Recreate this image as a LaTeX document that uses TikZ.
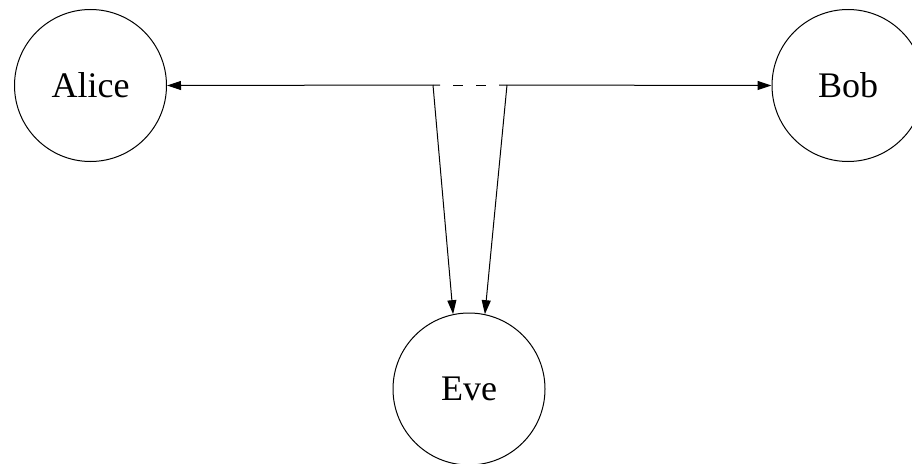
\documentclass[tikz,border=0pt]{standalone}
\usepackage{fontspec}
\setmainfont{Liberation Serif}
\usetikzlibrary{arrows.meta}
\begin{document}
\begin{tikzpicture}[x=1pt,y=-1pt,
  party/.style={circle,draw,line width=1pt,minimum size=152pt,inner sep=0pt,font=\fontsize{36}{40}\selectfont},
  conn/.style={line width=1pt,-{Triangle[length=14pt,width=9pt]}}]
\useasboundingbox (0,0) rectangle (912,463);
\node[party] (alice) at (90.5,85.5) {Alice};
\node[party] (bob) at (848,85.5) {Bob};
\node[party] (eve) at (469,389) {Eve};
\coordinate (p1) at (433,85);
\coordinate (p2) at (507,85);
\coordinate (h1) at (440,85);
\coordinate (h2) at (499,85);
\draw[conn] (h1) -- (alice.east);
\draw[conn] (h2) -- (bob.west);
\draw[line width=1pt,dash pattern=on 10pt off 13pt,dash phase=10pt] (h1) -- (h2);
\draw[conn] (p1) -- (eve.102);
\draw[conn] (p2) -- (eve.78);
\end{tikzpicture}
\end{document}
